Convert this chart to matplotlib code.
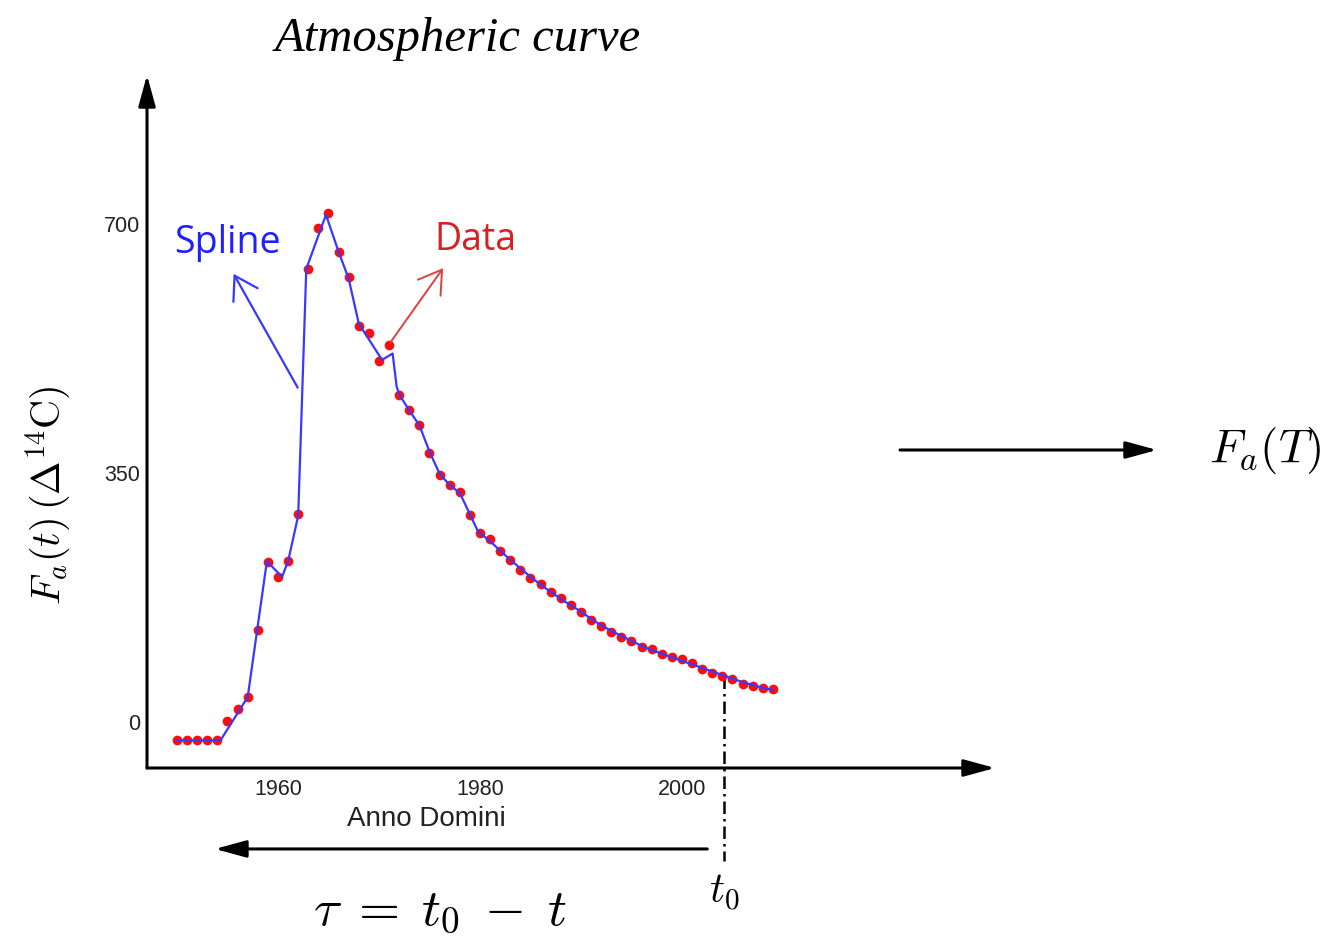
import matplotlib
matplotlib.use("Agg")
import matplotlib.pyplot as plt

plt.rcParams["font.family"] = ["Liberation Sans", "DejaVu Sans"]
plt.rcParams["mathtext.fontset"] = "cm"

W, H = 1333, 938


def fig_xy(px, py):
    # pixel position (from top-left) -> figure fraction
    return (px / W, 1 - py / H)


# annual atmospheric Delta14C values (per mil)
years = list(range(1950, 2010))
delta14c = [-26, -26, -25, -25, -26, 1, 18, 35, 129, 225,
            204, 226, 293, 637, 694, 716, 661, 625, 557, 547,
            508, 530, 460, 438, 417, 378, 347, 333, 323, 291,
            266, 257, 240, 228, 214, 202, 194, 183, 174, 164,
            155, 144, 135, 126, 120, 114, 106, 102, 96, 92,
            88, 83, 75, 69, 65, 61, 54, 51, 48, 46]

# spline knots
spline_years = [1950, 1954.3, 1957, 1958.9, 1960.4, 1961, 1962, 1962.8,
                1964.75, 1966, 1967, 1968, 1970.3, 1971.35, 1971.75, 1972.1,
                1973, 1974, 1975, 1976, 1977, 1978, 1979.8, 1981, 1982,
                1983, 1984, 1985, 1986, 1987, 1988, 1989, 1990, 1991, 1992,
                1993, 1994, 1995, 1996, 1997, 1998, 1999, 2000, 2001, 2002,
                2003, 2004, 2005, 2006, 2007, 2008, 2009]
spline_values = [-26, -26, 35, 226, 204, 226, 290, 637,
                 713, 661, 623, 560, 509, 518, 471, 458,
                 438, 417, 380, 349, 333, 322, 268, 254, 241,
                 228, 216, 204, 193, 183, 173, 164, 155, 145, 136,
                 128, 121, 114, 107, 101, 96, 91, 86, 81, 76,
                 71, 66, 61, 56, 52, 48, 45]

tick_years = [1960, 1980, 2000]
tick_values = [0, 350, 700]
t0 = 2004.2

fig = plt.figure(figsize=(W / 100, H / 100), dpi=100)
ax = fig.add_axes([147 / W, 1 - 768 / H, (995 - 147) / W, (768 - 75) / H])
ax.set_xlim(1947.03, 2030.99)
ax.set_ylim(-64.7, 909.5)
for s in ax.spines.values():
    s.set_visible(False)

ax.plot(years, delta14c, "o", color="#ff0d0d", ms=7, mec="none", zorder=3)
ax.plot(spline_years, spline_values, color="#3838ff", lw=1.6, zorder=4)

# axes drawn as arrows
axis_arrow = dict(arrowstyle="-|>,head_length=0.95,head_width=0.26", color="k",
                  lw=2.2, shrinkA=0, shrinkB=0, mutation_scale=20)
ax.annotate("", xy=(1, 0), xytext=(0, 0), xycoords="axes fraction",
            arrowprops=axis_arrow, annotation_clip=False)
ax.annotate("", xy=(0, 1), xytext=(0, 0), xycoords="axes fraction",
            arrowprops=axis_arrow, annotation_clip=False)

ax.set_xticks(tick_years)
ax.set_yticks(tick_values)
ax.tick_params(axis="x", length=0, labelsize=15.5, pad=8, labelcolor="#222222")
ax.tick_params(axis="y", length=0, labelsize=15.5, pad=5, labelcolor="#222222")

ax.set_xlabel("Anno Domini", fontsize=20, color="#222222")
ax.xaxis.set_label_coords(0.330, -0.055)
ax.set_ylabel(r"$F_a(t)\,(\Delta^{14}\mathrm{C})$", fontsize=29,
              ha="center", va="center")
ax.yaxis.set_label_coords(-0.117, 0.394)

fig.text(458 / W, 1 - 39 / H, "Atmospheric curve", fontsize=35,
         family="Liberation Serif", style="italic", ha="center", va="center")

# labels pointing at the two series
open_head = "->,head_length=0.8,head_width=0.5"
ax.annotate("", xy=(1955.6, 630), xytext=(1961.95, 470),
            arrowprops=dict(arrowstyle=open_head, color="#3838ff", lw=1.6,
                            shrinkA=0, shrinkB=0, mutation_scale=20))
ax.text(1949.7, 659, "Spline", color="#1f1fff", fontsize=27,
        family="Open Sans", ha="left", va="baseline")
ax.annotate("", xy=(1976.35, 638), xytext=(1971.1, 533),
            arrowprops=dict(arrowstyle=open_head, color="#dd4040", lw=1.4,
                            shrinkA=0, shrinkB=0, mutation_scale=20))
ax.text(1975.45, 663, "Data", color="#d42222", fontsize=27,
        family="Open Sans", ha="left", va="baseline")

# present time t0 and the backward time axis
ax.plot([t0, t0], [64, -195], color="k", lw=1.8, ls=(0, (5, 2, 1, 2)),
        clip_on=False)
ax.text(t0, -240, r"$t_0$", fontsize=30, ha="center", va="center")
ax.annotate("", xy=(1953.76, -178.5), xytext=(2002.5, -178.5),
            arrowprops=axis_arrow, annotation_clip=False)
fig.text(*fig_xy(440, 910), r"$\tau\;=\;t_0\;-\;t$", fontsize=38,
         ha="center", va="center")

# mapping to the function of T
ax.annotate("", xy=fig_xy(1157, 450), xytext=fig_xy(900, 450),
            xycoords="figure fraction", arrowprops=axis_arrow)
fig.text(*fig_xy(1265, 450), r"$F_a(T)$", fontsize=34, ha="center",
         va="center")

fig.savefig("out.png", dpi=100)
